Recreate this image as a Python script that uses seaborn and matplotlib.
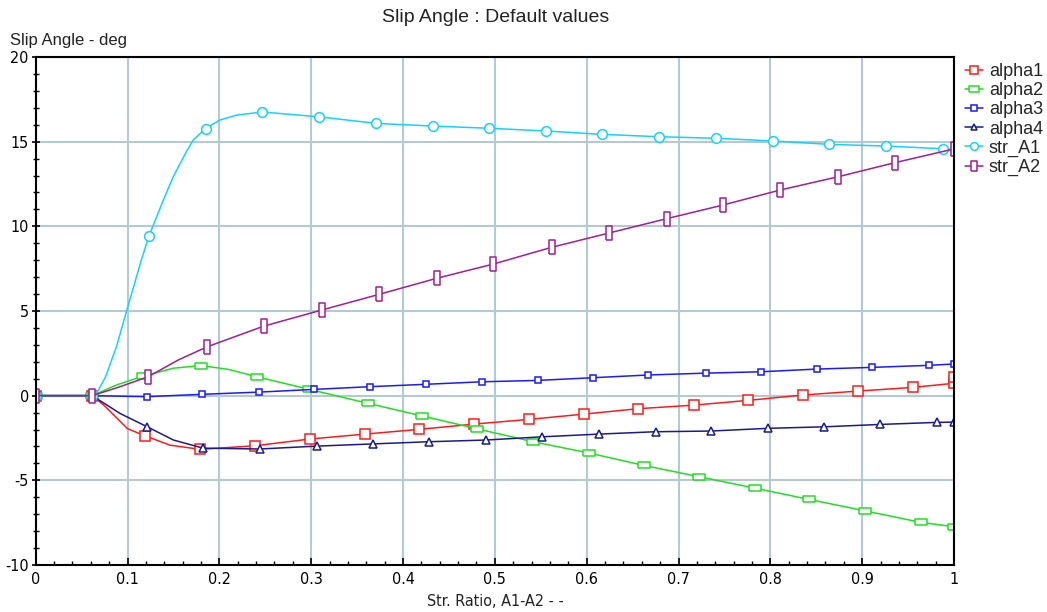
import numpy as np
import pandas as pd
import matplotlib
matplotlib.use("Agg")
import matplotlib.pyplot as plt
from matplotlib.lines import Line2D
import seaborn as sns

# ---- data -------------------------------------------------------------
alpha1_x = [0, 0.0616, 0.075, 0.088, 0.100, 0.119, 0.146, 0.1789, 0.2388, 0.2987,
            0.3586, 0.4177, 0.4772, 0.5375, 0.597, 0.656, 0.7168, 0.7756, 0.8358,
            0.8957, 0.9556, 1.0, 1.0]
alpha1_y = [0, 0, -0.60, -1.30, -1.95, -2.37, -2.92, -3.17, -2.96, -2.56,
            -2.27, -1.99, -1.68, -1.40, -1.09, -0.77, -0.56, -0.28, 0.04,
            0.27, 0.49, 0.73, 1.08]

alpha2_x = [0, 0.0616, 0.088, 0.1172, 0.150, 0.1797, 0.210, 0.2406, 0.298, 0.3615,
            0.4203, 0.4808, 0.5415, 0.602, 0.6623, 0.7226, 0.7832, 0.8423, 0.903,
            0.9636, 1.0, 1.0]
alpha2_y = [0, 0, 0.63, 1.16, 1.62, 1.78, 1.55, 1.12, 0.37, -0.45,
            -1.19, -1.96, -2.72, -3.38, -4.12, -4.79, -5.46, -6.13, -6.80,
            -7.48, -7.74, -6.76]

alpha3_x = [0, 0.0616, 0.1208, 0.1814, 0.2431, 0.3034, 0.364, 0.4246, 0.4863, 0.5466,
            0.6072, 0.667, 0.7296, 0.7897, 0.8504, 0.9109, 0.9727, 1.0]
alpha3_y = [0, 0, -0.06, 0.08, 0.21, 0.37, 0.53, 0.67, 0.82, 0.90,
            1.06, 1.22, 1.33, 1.41, 1.57, 1.67, 1.79, 1.87]

alpha4_x = [0, 0.0616, 0.0918, 0.1215, 0.150, 0.1822, 0.2439, 0.306, 0.367, 0.4287,
            0.4903, 0.5516, 0.6133, 0.675, 0.735, 0.797, 0.8587, 0.9193, 0.981, 1.0]
alpha4_y = [0, 0, -1.05, -1.84, -2.62, -3.10, -3.15, -2.98, -2.85, -2.72,
            -2.62, -2.43, -2.27, -2.13, -2.09, -1.93, -1.84, -1.70, -1.58, -1.56]

str_A1_x = [0, 0.0615, 0.068, 0.076, 0.088, 0.099, 0.115, 0.1234, 0.139, 0.1498,
            0.164, 0.1716, 0.185, 0.2007, 0.219, 0.2467, 0.308, 0.3705, 0.4323,
            0.494, 0.5556, 0.617, 0.679, 0.7407, 0.8025, 0.864, 0.9258, 0.9876, 1.0]
str_A1_y = [0, 0, 0.30, 1.10, 2.90, 5.00, 8.00, 9.44, 11.55, 12.93,
            14.40, 15.10, 15.77, 16.28, 16.57, 16.75, 16.47, 16.08, 15.92,
            15.79, 15.63, 15.43, 15.29, 15.20, 15.04, 14.84, 14.74, 14.58, 14.55]

str_A2_x = [0, 0.0616, 0.092, 0.1226, 0.155, 0.1869, 0.2486, 0.3117, 0.3738, 0.4366,
            0.4983, 0.5618, 0.624, 0.687, 0.7487, 0.8104, 0.874, 0.9357, 1.0, 1.0]
str_A2_y = [0, 0, 0.53, 1.12, 2.10, 2.89, 4.11, 5.06, 5.98, 6.93,
            7.77, 8.76, 9.60, 10.45, 11.26, 12.14, 12.93, 13.76, 14.57, 12.93]

series_names = ["alpha1", "alpha2", "alpha3", "alpha4", "str_A1", "str_A2"]

x_ticks = [0, 0.1, 0.2, 0.3, 0.4, 0.5, 0.6, 0.7, 0.8, 0.9, 1.0]
x_tick_labels = ["0", "0.1", "0.2", "0.3", "0.4", "0.5", "0.6", "0.7", "0.8", "0.9", "1"]
y_ticks = [-10, -5, 0, 5, 10, 15, 20]
y_tick_labels = ["-10", "-5", "0", "5", "10", "15", "20"]

# ---- marker shapes ------------------------------------------------------
wide_rect = [(-1, -0.55), (1, -0.55), (1, 0.55), (-1, 0.55), (-1, -0.55)]
tall_rect = [(-0.5, -1), (0.5, -1), (0.5, 1), (-0.5, 1), (-0.5, -1)]

def marked(n, skip=()):
    return [i for i in range(n) if i not in skip]

styles = {
    "alpha1": dict(x=alpha1_x, y=alpha1_y, color="#ff1a1a", marker="s", ms=6.5,
                   every=marked(len(alpha1_x), (2, 3, 4, 6))),
    "alpha2": dict(x=alpha2_x, y=alpha2_y, color="#1fe01f", marker=wide_rect, ms=9.0,
                   every=marked(len(alpha2_x), (2, 4, 6, 21))),
    "alpha3": dict(x=alpha3_x, y=alpha3_y, color="#1a1aff", marker="s", ms=4.8,
                   every=marked(len(alpha3_x))),
    "alpha4": dict(x=alpha4_x, y=alpha4_y, color="#1a1a8c", marker="^", ms=5.2,
                   every=marked(len(alpha4_x), (2, 4))),
    "str_A1": dict(x=str_A1_x, y=str_A1_y, color="#12d2ff", marker="o", ms=7.0,
                   every=marked(len(str_A1_x), (2, 3, 4, 5, 6, 8, 9, 10, 11, 13, 14, 28))),
    "str_A2": dict(x=str_A2_x, y=str_A2_y, color="#a01e96", marker=tall_rect, ms=9.5,
                   every=marked(len(str_A2_x), (2, 4, 19))),
}

# ---- figure -----------------------------------------------------------
sns.set_theme(style="white")
plt.rcParams["font.family"] = ["Liberation Sans", "DejaVu Sans"]
narrow = ["Liberation Sans Narrow", "DejaVu Sans"]

fig = plt.figure(figsize=(10.47, 6.12), dpi=100)
ax = fig.add_axes([0.0341, 0.0768, 0.8771, 0.8301])

handles = []
for name in series_names:
    st = styles[name]
    df = pd.DataFrame({"x": st["x"], "y": st["y"]})
    sns.lineplot(data=df, x="x", y="y", ax=ax, estimator=None, sort=False,
                 color=st["color"], lw=1.1, marker=st["marker"], markersize=st["ms"],
                 markevery=st["every"], mfc="white", mec=st["color"], mew=1.1,
                 legend=False)
    handles.append(Line2D([0], [0], color=st["color"], lw=1.1, marker=st["marker"],
                          markersize=st["ms"] * 0.8, mfc="white", mec=st["color"],
                          mew=1.1, label=name))

ax.set_xlim(0, 1)
ax.set_ylim(-10, 20)
ax.set_xticks(x_ticks)
ax.set_xticklabels(x_tick_labels)
ax.set_yticks(y_ticks)
ax.set_yticklabels(y_tick_labels)
ax.set_xticks(np.arange(0, 1.0001, 0.02), minor=True)
ax.set_yticks(np.arange(-10, 20.001, 1), minor=True)

ax.grid(True, which="major", color="#b3cad1", lw=1.5)
ax.set_axisbelow(True)
ax.tick_params(axis="x", which="major", direction="in", length=5, width=1.2,
               colors="black", labelsize=11.5, pad=5)
ax.tick_params(axis="x", which="minor", direction="in", length=3, width=1.0, colors="black")
ax.tick_params(axis="y", which="major", direction="inout", length=6, width=1.2,
               colors="black", labelsize=11.5, pad=2)
ax.tick_params(axis="y", which="minor", direction="inout", length=4, width=1.0, colors="black")
ax.xaxis.set_ticks_position("bottom")
ax.yaxis.set_ticks_position("left")
for lab in ax.get_xticklabels() + ax.get_yticklabels():
    lab.set_fontfamily(narrow)
    lab.set_fontstretch("condensed")
for sp in ax.spines.values():
    sp.set_color("black")
    sp.set_linewidth(1.5)

ax.set_xlabel("")
ax.set_ylabel("")

fig.text(0.473, 1 - 17 / 612, "Slip Angle : Default values", ha="center", va="center",
         fontsize=14, color="#222222")
fig.text(10 / 1047, 1 - 40 / 612, "Slip Angle - deg", ha="left", va="center",
         fontsize=12, color="#222222")
fig.text(0.473, 1 - 601 / 612, "Str. Ratio, A1-A2 - -", ha="center", va="center",
         fontsize=11.5, color="#222222", family=narrow, stretch="condensed")

fig.legend(handles=handles, loc="upper left", bbox_to_anchor=(0.922, 0.897),
           frameon=False, fontsize=13, handlelength=1.0, handletextpad=0.3,
           labelspacing=0.12, borderaxespad=0, borderpad=0)

fig.savefig("out.png", dpi=100, facecolor="white")
